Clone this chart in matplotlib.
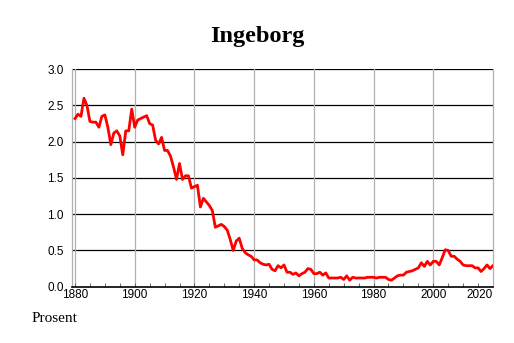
import numpy as np
import matplotlib.pyplot as plt
from matplotlib.ticker import MultipleLocator

# navn og andel (prosent) per år
name = 'Ingeborg'
years = np.arange(1880, 2021)
share = [2.32, 2.38, 2.35, 2.60, 2.50, 2.28, 2.27, 2.27, 2.20, 2.35,
         2.37, 2.20, 1.96, 2.12, 2.15, 2.08, 1.82, 2.15, 2.15, 2.45,
         2.20, 2.30, 2.32, 2.34, 2.36, 2.25, 2.23, 2.02, 1.97, 2.06,
         1.88, 1.88, 1.80, 1.65, 1.48, 1.70, 1.48, 1.53, 1.53, 1.36,
         1.38, 1.40, 1.10, 1.22, 1.17, 1.12, 1.05, 0.82, 0.84, 0.86,
         0.83, 0.78, 0.65, 0.50, 0.63, 0.67, 0.53, 0.47, 0.44, 0.42,
         0.37, 0.37, 0.33, 0.31, 0.30, 0.31, 0.24, 0.22, 0.29, 0.26,
         0.30, 0.20, 0.20, 0.17, 0.19, 0.15, 0.18, 0.20, 0.25, 0.24,
         0.18, 0.18, 0.20, 0.16, 0.19, 0.12, 0.12, 0.12, 0.12, 0.13,
         0.10, 0.15, 0.09, 0.13, 0.12, 0.12, 0.12, 0.12, 0.13, 0.13,
         0.13, 0.12, 0.13, 0.13, 0.13, 0.10, 0.09, 0.12, 0.15, 0.16,
         0.16, 0.20, 0.21, 0.22, 0.24, 0.26, 0.33, 0.28, 0.35, 0.30,
         0.35, 0.35, 0.30, 0.40, 0.51, 0.50, 0.42, 0.42, 0.38, 0.35,
         0.30, 0.29, 0.29, 0.29, 0.26, 0.26, 0.21, 0.25, 0.30, 0.25,
         0.29]
yticks = [0.0, 0.5, 1.0, 1.5, 2.0, 2.5, 3.0]
xticks = [1880, 1900, 1920, 1940, 1960, 1980, 2000, 2020]

fig = plt.figure(figsize=(5.14, 3.43), dpi=100)
ax = fig.add_axes([0.1407, 0.1641, 0.819, 0.634])

# rutenett
for y in yticks[1:]:
    ax.axhline(y, color='black', lw=0.9, zorder=1)
for x in xticks[:-1]:
    ax.axvline(x, color='#b0b0b0', lw=0.9, zorder=1)

ax.plot(years, share, color='#ff0000', lw=2.0, zorder=3)

ax.set_xlim(1879.1, 2020.1)
ax.set_ylim(0, 3.0)
ax.set_yticks(yticks)
ax.set_yticklabels(['%.1f' % v for v in yticks])
ax.set_xticks(xticks)
ax.set_xticklabels([str(x) for x in xticks])
ax.xaxis.set_minor_locator(MultipleLocator(5))

ax.tick_params(axis='x', which='both', direction='in', length=3, width=0.6,
               color='#555555', pad=2, labelsize=8.5)
ax.tick_params(axis='y', length=0, pad=6, labelsize=8.5)
for lab in ax.get_xticklabels() + ax.get_yticklabels():
    lab.set_family('Liberation Sans')
ax.get_xticklabels()[-1].set_ha('right')
ax.get_xticklabels()[-1].set_x(2020.1)

ax.spines['top'].set_visible(False)
ax.spines['left'].set_color('#b0b0b0')
ax.spines['right'].set_color('#b0b0b0')
ax.spines['left'].set_linewidth(0.9)
ax.spines['right'].set_linewidth(0.9)
ax.spines['bottom'].set_linewidth(1.2)

fig.text(0.5, 0.893, name, ha='center', va='center', fontsize=17.5,
         fontweight='bold', family='Liberation Serif')
fig.text(0.062, 0.07, 'Prosent', ha='left', va='center', fontsize=11,
         family='Liberation Serif')

fig.savefig('out.png', dpi=100)
